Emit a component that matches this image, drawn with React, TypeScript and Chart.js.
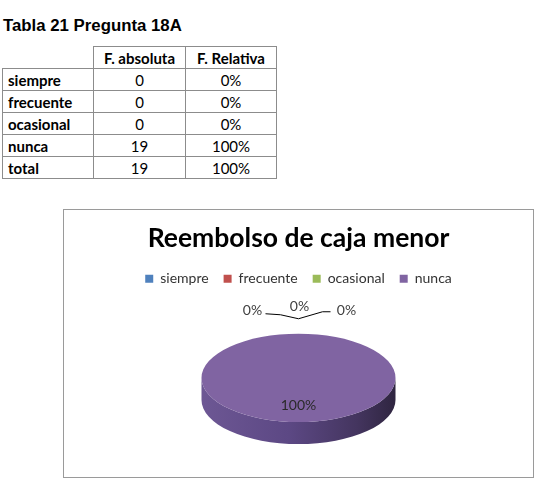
import React, { useEffect, useRef } from "react";
import { Chart, registerables } from "chart.js";

Chart.register(...registerables);

// ---- data ----
const tableTitle = "Tabla 21 Pregunta 18A";
const headers = ["F. absoluta", "F. Relativa"];
const categories = ["siempre", "frecuente", "ocasional", "nunca"];
const absolutes = [0, 0, 0, 19];
const relatives = ["0%", "0%", "0%", "100%"];
const totalLabel = "total";
const totalAbsolute = 19;
const totalRelative = "100%";
const chartTitle = "Reembolso de caja menor";

// ---- style ----
const sliceColors = ["#4F81BD", "#C0504D", "#9BBB59", "#8064A2"];
const TILT = 0.455;
const DEPTH = 22;
const FONT = "Lato, 'Open Sans', sans-serif";

const pie3d = {
  id: "pie3d",
  beforeDatasetsDraw(chart: any) {
    const ctx = chart.ctx as CanvasRenderingContext2D;
    const el: any = chart.getDatasetMeta(0).data[0];
    const { x, y, outerRadius: r } = el;
    const ry = r * TILT;
    ctx.save();
    const g = ctx.createLinearGradient(x - r, 0, x + r, 0);
    g.addColorStop(0, "#6d5794");
    g.addColorStop(0.45, "#5c4884");
    g.addColorStop(0.8, "#44355f");
    g.addColorStop(1, "#2f2540");
    ctx.fillStyle = g;
    ctx.beginPath();
    ctx.ellipse(x, y, r, ry, 0, 0, Math.PI);
    ctx.ellipse(x, y + DEPTH, r, ry, 0, Math.PI, 0, true);
    ctx.closePath();
    ctx.fill();
    ctx.restore();
    ctx.save();
    ctx.translate(0, y);
    ctx.scale(1, TILT);
    ctx.translate(0, -y);
  },
  afterDatasetsDraw(chart: any) {
    const ctx = chart.ctx as CanvasRenderingContext2D;
    ctx.restore();
    const meta = chart.getDatasetMeta(0);
    const data = chart.data.datasets[0].data as number[];
    const total = data.reduce((a, b) => a + b, 0);
    const zeros = data.map((v, i) => (v === 0 ? i : -1)).filter((i) => i >= 0);
    const mid0 = (zeros.length - 1) / 2;
    ctx.save();
    ctx.font = `14px ${FONT}`;
    ctx.textAlign = "center";
    ctx.textBaseline = "middle";
    let cx = 0,
      topY = 0;
    meta.data.forEach((el: any, i: number) => {
      const v = data[i];
      const pct = Math.round((v / total) * 100) + "%";
      const { x, y, outerRadius: r, startAngle, endAngle } = el;
      cx = x;
      topY = y - r * TILT;
      if (v > 0) {
        const mid = (startAngle + endAngle) / 2;
        ctx.fillStyle = "#2a2a2a";
        ctx.fillText(pct, x + Math.cos(mid) * r * 0.62, y + Math.sin(mid) * r * 0.62 * TILT);
      } else {
        const j = zeros.indexOf(i);
        const lx = x + (j - mid0) * 47 + 1;
        const ly = topY - 23 - (j === mid0 ? 4 : 0);
        ctx.fillStyle = "#404040";
        ctx.fillText(pct, lx, ly);
      }
    });
    if (zeros.length > 1) {
      const ly = topY - 23;
      ctx.strokeStyle = "#000";
      ctx.lineWidth = 1;
      ctx.beginPath();
      ctx.moveTo(cx - 33, ly + 3);
      ctx.lineTo(cx - 18, ly + 4);
      ctx.lineTo(cx, ly + 8);
      ctx.lineTo(cx + 24, ly + 1);
      ctx.lineTo(cx + 32, ly + 1);
      ctx.stroke();
    }
    ctx.restore();
  },
};

function PieChart() {
  const ref = useRef<HTMLCanvasElement>(null);
  useEffect(() => {
    const chart = new Chart(ref.current!, {
      type: "pie",
      data: {
        labels: categories,
        datasets: [
          {
            data: absolutes,
            backgroundColor: sliceColors,
            borderWidth: 0,
          },
        ],
      },
      options: {
        animation: false,
        responsive: false,
        devicePixelRatio: 1,
        events: [],
        radius: 97,
        layout: { padding: { bottom: 17 } },
        plugins: {
          title: {
            display: true,
            text: chartTitle,
            color: "#000",
            font: { family: FONT, size: 26.5, weight: "bold" },
            padding: { top: 13, bottom: 2 },
          },
          legend: {
            position: "top",
            labels: {
              boxWidth: 8,
              boxHeight: 8,
              padding: 15,
              color: "#333",
              font: { family: FONT, size: 14 },
            },
          },
          tooltip: { enabled: false },
        },
      } as any,
      plugins: [pie3d],
    });
    return () => chart.destroy();
  }, []);
  return <canvas ref={ref} width={469} height={267} style={{ display: "block" }} />;
}

const border = "1px solid #8c8c8c";
const cellBase: React.CSSProperties = {
  border,
  height: 22,
  padding: 0,
  boxSizing: "border-box",
  fontFamily: FONT,
  fontSize: 15,
  color: "#000",
};

export default function App() {
  const rows = categories.map((c, i) => [c, String(absolutes[i]), relatives[i]]);
  rows.push([totalLabel, String(totalAbsolute), totalRelative]);
  return (
    <div style={{ position: "absolute", left: 0, top: 0, width: 547, height: 492, background: "#fff", overflow: "hidden" }}>
      <div
        style={{
          position: "absolute",
          left: 3,
          top: 17,
          fontFamily: "'Liberation Sans', Arial, sans-serif",
          fontWeight: "bold",
          fontSize: 16.8,
          lineHeight: "18px",
          whiteSpace: "nowrap",
        }}
      >
        {tableTitle}
      </div>
      <table
        style={{
          position: "absolute",
          left: 2,
          top: 46,
          borderCollapse: "collapse",
          tableLayout: "fixed",
        }}
      >
        <colgroup>
          <col style={{ width: 91 }} />
          <col style={{ width: 92 }} />
          <col style={{ width: 91 }} />
        </colgroup>
        <tbody>
          <tr>
            <td style={{ ...cellBase, border: "none", borderRight: border, borderBottom: border }} />
            {headers.map((h) => (
              <td key={h} style={{ ...cellBase, textAlign: "center", fontWeight: "bold" }}>
                {h}
              </td>
            ))}
          </tr>
          {rows.map((r) => (
            <tr key={r[0]}>
              <td style={{ ...cellBase, fontWeight: "bold", paddingLeft: 5 }}>{r[0]}</td>
              <td style={{ ...cellBase, textAlign: "center" }}>{r[1]}</td>
              <td style={{ ...cellBase, textAlign: "center" }}>{r[2]}</td>
            </tr>
          ))}
        </tbody>
      </table>
      <div style={{ position: "absolute", left: 63, top: 209, border: "1px solid #9a9a9a" }}>
        <PieChart />
      </div>
    </div>
  );
}
